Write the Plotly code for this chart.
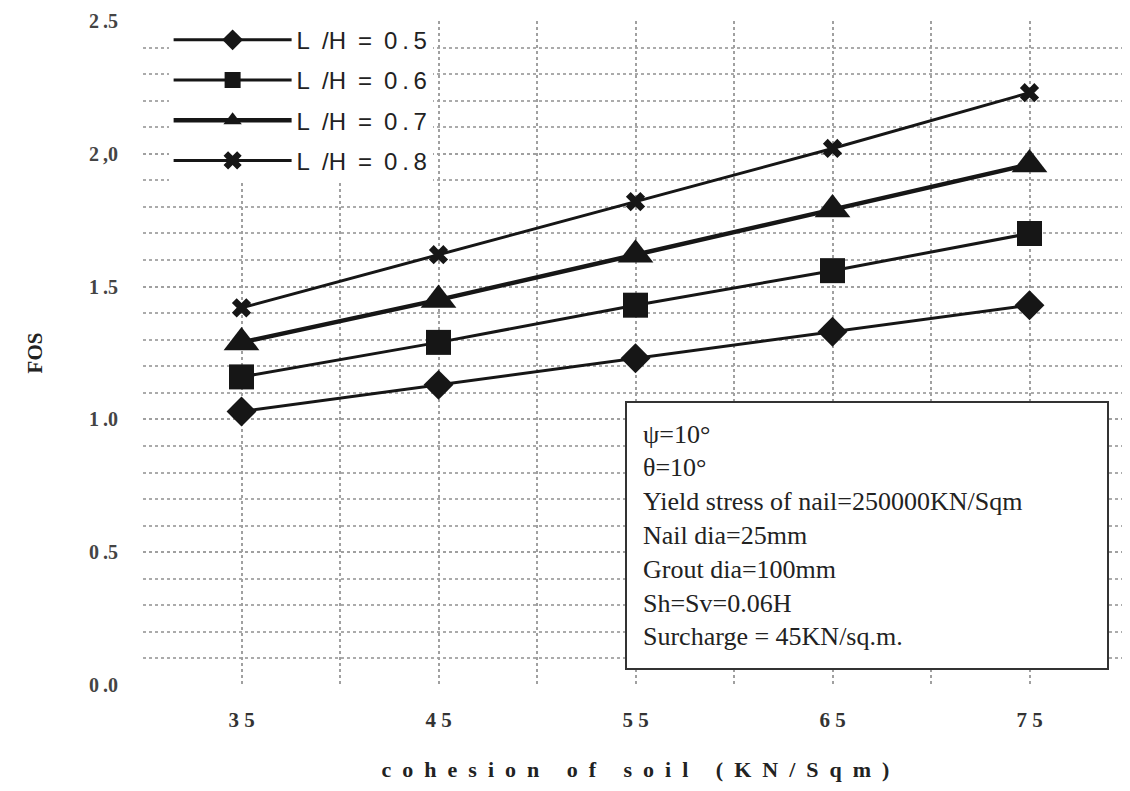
import plotly.graph_objects as go

cohesion = [35, 45, 55, 65, 75]
fos_05 = [1.03, 1.13, 1.23, 1.33, 1.43]
fos_06 = [1.16, 1.29, 1.43, 1.56, 1.70]
fos_07 = [1.29, 1.45, 1.62, 1.79, 1.96]
fos_08 = [1.42, 1.62, 1.82, 2.02, 2.23]
ES = "\u2002"
TS = "\u2009"
series_names = [f"L{ES}/H{ES}={ES}0{TS}.{TS}{v}" for v in ("5", "6", "7", "8")]

x_tickvals = [30, 35, 40, 45, 50, 55, 60, 65, 70, 75, 80]
x_ticktext = ["", "3 5", "", "4 5", "", "5 5", "", "6 5", "", "7 5", ""]
y_tickvals = [0.0, 0.5, 1.0, 1.5, 2.0, 2.5]
y_ticktext = [f"0{TS}.0", f"0{TS}.5", f"1{TS}.0", f"1{TS}.5", f"2{TS},0", f"2{TS}.5"]
x_title = ES.join("cohesion of soil (KN/Sqm)")

note_lines = [
    "ψ=10°",
    "θ=10°",
    "Yield stress of nail=250000KN/Sqm",
    "Nail dia=25mm",
    "Grout dia=100mm",
    "Sh=Sv=0.06H",
    "Surcharge = 45KN/sq.m.",
]

ink = "#161616"
fig = go.Figure()
styles = [
    dict(symbol="diamond", size=23, lw=3),
    dict(symbol="square", size=25, lw=3),
    dict(symbol="triangle-up", size=31, lw=4.5),
    dict(symbol="x", size=17, lw=3),
]
for i, (name, ys) in enumerate(zip(series_names, [fos_05, fos_06, fos_07, fos_08])):
    st = styles[i]
    fig.add_trace(go.Scatter(
        x=cohesion, y=ys, name=name, mode="lines+markers",
        legendgroup=f"g{i}",
        line=dict(color=ink, width=st["lw"]),
        marker=dict(symbol=st["symbol"], size=st["size"], color=ink,
                    line=dict(width=0)),
    ))

fig.add_annotation(
    text="<br>".join(note_lines),
    xref="paper", yref="paper", x=0.4893, y=0.427,
    xanchor="left", yanchor="top", showarrow=False,
    align="left", valign="middle",
    width=448, height=233, borderpad=16, borderwidth=2,
    bordercolor="#333", bgcolor="white",
    font=dict(family="Liberation Serif", size=26, color="#222"),
)

fig.update_layout(
    width=1122, height=783,
    margin=dict(l=135, r=2, t=10, b=106),
    paper_bgcolor="white", plot_bgcolor="white",
    showlegend=True,
    legend=dict(
        x=0.026, y=1.005, xanchor="left", yanchor="top",
        bgcolor="white", borderwidth=0,
        font=dict(family="Liberation Sans", size=24, color="#222"),
        itemwidth=118, traceorder="grouped", tracegroupgap=6,
    ),
    xaxis=dict(
        range=[30, 80], tickmode="array", tickvals=x_tickvals, ticktext=x_ticktext,
        showgrid=True, gridcolor="#a0a0a0", griddash="dot", gridwidth=1.5,
        zeroline=False, showline=False, ticks="",
        ticklabelstandoff=20,
        tickfont=dict(family="Liberation Serif", size=21, color="#333", weight="bold"),
        title=dict(text=x_title,
                   font=dict(family="Liberation Serif", size=22, color="#222", weight="bold"),
                   standoff=30),
    ),
    yaxis=dict(
        range=[0, 2.5], tickmode="array", tickvals=y_tickvals, ticktext=y_ticktext,
        showgrid=True, gridcolor="#a0a0a0", griddash="dot", gridwidth=1.5,
        minor=dict(dtick=0.1, showgrid=True, gridcolor="#ababab", griddash="dot", gridwidth=1.5),
        zeroline=False, showline=False, ticks="",
        ticklabelstandoff=24, ticklabeloverflow="allow",
        tickfont=dict(family="Liberation Serif", size=20, color="#444", weight="bold"),
        title=dict(text="FOS",
                   font=dict(family="Liberation Serif", size=21, color="#222", weight="bold"),
                   standoff=40),
    ),
)

fig.write_html("out.html")
